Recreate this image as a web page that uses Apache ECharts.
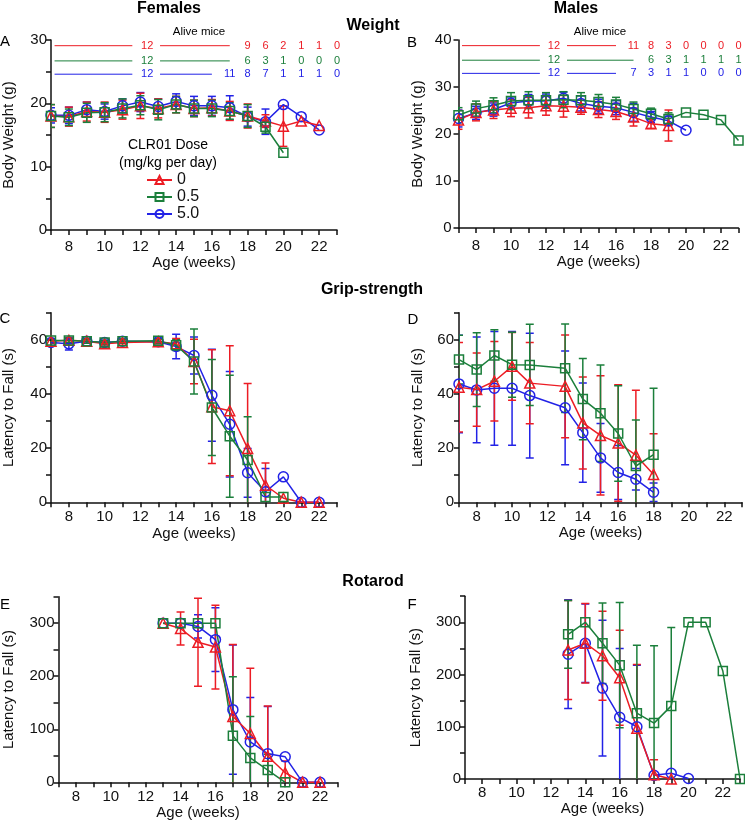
<!DOCTYPE html>
<html><head><meta charset="utf-8">
<script src="https://cdn.jsdelivr.net/npm/echarts@6/dist/echarts.min.js"></script>
<style>html,body{margin:0;padding:0;background:#fff}#c{width:745px;height:822px}</style>
</head><body><div id="c"></div>
<script>
// ---------- data ----------
const doseNames = ['0', '0.5', '5.0'];
// Females weight (A)
const fwWeeks0 = [7,8,9,10,11,12,13,14,15,16,17,18,19,20,21,22];
const fw0  = [18.0,17.9,18.7,18.6,19.0,19.6,19.2,19.8,19.2,19.3,18.8,18.0,17.2,16.4,17.2,16.5];
const fw0e = [1.8,1.5,1.5,1.6,1.5,2.0,1.5,1.3,1.3,1.3,1.5,1.9,1.0,3.2,0,0];
const fwWeeks05 = [7,8,9,10,11,12,13,14,15,16,17,18,19,20];
const fw05  = [18.0,17.8,18.5,18.6,19.2,19.7,19.0,19.8,19.2,19.2,18.8,18.0,16.3,12.2];
const fw05e = [1.8,1.3,1.5,1.5,1.5,1.5,1.6,1.3,1.3,1.3,1.3,1.8,1.0,0];
const fwWeeks5 = [7,8,9,10,11,12,13,14,15,16,17,18,19,20,21,22];
const fw5  = [18.1,18.1,19.0,18.7,19.6,20.2,19.5,20.3,19.6,19.6,19.3,17.9,17.1,19.8,17.9,15.8];
const fw5e = [1.2,1.3,1.2,1.2,1.1,1.5,1.2,1.2,1.5,1.5,1.9,1.5,2.0,0,0,0];
// Males weight (B)
const mwWeeks0 = [7,8,9,10,11,12,13,14,15,16,17,18,19];
const mw0  = [23.0,24.6,25.1,25.5,25.6,26.0,25.9,25.7,25.2,24.8,23.6,22.2,21.8];
const mw0e = [2.0,1.8,1.8,1.8,2.2,2.0,2.3,1.5,1.7,1.7,1.9,1.0,3.3];
const mwWeeks05 = [7,8,9,10,11,12,13,14,15,16,17,18,19,20,21,22,23];
const mw05  = [24.0,25.4,26.1,27.0,27.2,27.2,27.3,27.2,26.8,26.3,25.3,24.3,23.2,24.6,24.1,23.0,18.6];
const mw05e = [1.6,1.6,1.6,1.8,1.8,1.6,1.7,1.6,1.6,1.5,1.5,1.2,1.3,0,0,0,0];
const mwWeeks5 = [7,8,9,10,11,12,13,14,15,16,17,18,19,20];
const mw5  = [23.3,24.5,25.2,26.6,27.0,27.0,27.6,26.5,25.9,25.6,24.6,23.6,22.8,20.8];
const mw5e = [1.8,1.4,1.4,1.3,1.4,1.5,1.3,1.6,1.5,1.5,1.9,1.2,1.0,0];
// Females grip strength (C)
const fgWeeks0 = [7,8,9,10,11,13,14,15,16,17,18,19,20,21,22];
const fg0  = [59.5,59.8,59.5,58.5,59.0,59.3,58.5,52.0,35.3,33.8,19.9,6.3,1.5,0,0];
const fg0e = [0.8,0.8,0.8,1.0,1.0,0.8,2.0,8.2,21.0,24.0,24.0,8.2,0,0,0];
const fgWeeks05 = [7,8,9,10,11,13,14,15,16,17,18,19,20];
const fg05  = [59.7,59.7,59.5,59.0,59.5,59.6,58.0,52.0,35.0,24.4,15.6,2.0,2.0];
const fg05e = [0.8,0.8,0.8,0.8,0.8,0.8,2.0,12.0,17.7,22.5,16.0,0,0];
const fgWeeks5 = [7,8,9,10,11,13,14,15,16,17,18,19,20,21,22];
const fg5  = [59.0,58.5,59.5,59.0,59.5,59.3,57.5,54.2,39.5,28.8,10.9,3.9,9.4,0,0];
const fg5e = [1.3,2.3,0.8,0.8,0.8,0.8,4.5,6.8,17.0,19.5,9.0,8.6,0,0,0];
// Males grip strength (D)
const mgWeeks = [7,8,9,10,11,13,14,15,16,17,18];
const mg0  = [42.5,41.6,44.7,50.2,44.0,42.8,29.3,24.7,21.9,17.4,10.3];
const mg0e = [16.5,13.5,14.7,12.5,15.0,19.0,17.0,22.0,21.5,24.0,15.0];
const mg05  = [52.7,49.0,54.2,50.8,50.7,49.5,38.1,32.9,25.4,13.4,17.6];
const mg05e = [9.0,13.6,9.5,12.0,15.0,16.3,15.0,17.8,17.6,17.0,24.5];
const mg5  = [43.7,41.5,42.1,42.1,39.4,34.9,25.7,16.4,11.0,8.5,3.7];
const mg5e = [18.0,19.5,21.0,21.0,23.0,21.0,18.3,12.7,10.0,4.0,3.4];
// Females rotarod (E)
const frWeeks0 = [13,14,15,16,17,18,19,20,21,22];
const fr0  = [300,290,264,255,124,92,49,18,0,0];
const fr0e = [0,31,83,79,136,123,95,22,0,0];
const frWeeks05 = [13,14,15,16,17,18,19,20];
const fr05  = [300,300,300,300,88,46,23,0];
const fr05e = [0,0,0,0,111,78,30,0];
const frWeeks5 = [13,14,15,16,17,18,19,20,21,22];
const fr5  = [300,300,294,269,137,76,54,48,0,0];
const fr5e = [0,0,22,60,122,84,89,0,0,0];
// Males rotarod (F)
const mrWeeks0 = [13,14,15,16,17,18,19];
const mr0  = [247,260,236,194,97,8,0];
const mr0e = [95,76,85,91,122,29,0];
const mrWeeks05 = [13,14,15,16,17,18,19,20,21,22,23];
const mr05  = [277,300,260,218,126,107,140,300,300,207,0];
const mr05e = [65,0,77,120,130,148,150,0,0,0,0];
const mrWeeks5 = [13,14,15,16,17,18,19,20];
const mr5  = [239,260,174,118,100,7,11,1];
const mr5e = [104,75,130,132,118,0,0,0];
// Alive mice counts
const aliveStart = 12;
const aliveF0Weeks = [18,19,20,21,22,23];  const aliveF0 = [9,6,2,1,1,0];
const aliveF05Weeks = [18,19,20,21,22,23]; const aliveF05 = [6,3,1,0,0,0];
const aliveF5Weeks = [17,18,19,20,21,22,23]; const aliveF5 = [11,8,7,1,1,1,0];
const aliveM0Weeks = [17,18,19,20,21,22,23]; const aliveM0 = [11,8,3,0,0,0,0];
const aliveM05Weeks = [18,19,20,21,22,23]; const aliveM05 = [6,3,1,1,1,1];
const aliveM5Weeks = [17,18,19,20,21,22,23]; const aliveM5 = [7,3,1,1,0,0,0];

// ---------- styles ----------
const COL = ['#ec1c24', '#1b7f3b', '#2222e6'];
const SYM = ['triangle', 'rect', 'circle'];
const SYMSIZE = [10, 9, 10];
const FONT = '"Liberation Sans", Arial, sans-serif';

const grids = [
  {left: 51, top: 40, width: 286, height: 190},
  {left: 458.5, top: 40, width: 280, height: 188},
  {left: 51, top: 312.7, width: 286, height: 189.6},
  {left: 459, top: 312.7, width: 284, height: 189.6},
  {left: 58.5, top: 596.7, width: 279, height: 185.6},
  {left: 465, top: 596.2, width: 275, height: 182.8}
];
const yCfg = [
  {max: 30, interval: 5, lab: v => v % 10 === 0 ? v : '', name: 'Body Weight (g)', gap: 35, margin: 4},
  {max: 40, interval: 10, lab: v => v, name: 'Body Weight (g)', gap: 33, margin: 7},
  {max: 70, interval: 10, lab: v => (v % 20 === 0 && v <= 60) ? v : '', name: 'Latency to Fall (s)', gap: 35, margin: 4},
  {max: 70, interval: 10, lab: v => (v % 20 === 0 && v <= 60) ? v : '', name: 'Latency to Fall (s)', gap: 34, margin: 5},
  {max: 350, interval: 50, lab: v => v % 100 === 0 ? v : '', name: 'Latency to Fall (s)', gap: 42, margin: 4},
  {max: 350, interval: 50, lab: v => v % 100 === 0 ? v : '', name: 'Latency to Fall (s)', gap: 42, margin: 4}
];
const xGap = [21, 21, 24, 22, 22, 21];
const xMargin = [9.5, 10, 7, 7, 7, 6.5];
const axLine = {lineStyle: {color: '#111', width: 1.5}};
const axTick = {length: 5, lineStyle: {color: '#111', width: 1.5}};

const xAxis = grids.map((g, i) => ({
  type: 'value', gridIndex: i, min: 7, max: 23, interval: 1,
  axisLine: axLine, axisTick: axTick, splitLine: {show: false},
  axisLabel: {fontSize: 15, color: '#111', fontFamily: FONT, margin: xMargin[i],
    formatter: v => v % 2 === 0 ? v : ''},
  name: 'Age (weeks)', nameLocation: 'middle', nameGap: xGap[i],
  nameTextStyle: {fontSize: 15, color: '#111', fontFamily: FONT}
}));
const yAxis = yCfg.map((c, i) => ({
  type: 'value', gridIndex: i, min: 0, max: c.max, interval: c.interval,
  axisLine: {show: true, ...axLine}, axisTick: {show: true, ...axTick}, splitLine: {show: false},
  axisLabel: {fontSize: 15, color: '#111', fontFamily: FONT, margin: c.margin, formatter: c.lab,
    showMaxLabel: true},
  name: c.name, nameLocation: 'middle', nameGap: c.gap,
  nameTextStyle: {fontSize: 15, color: '#111', fontFamily: FONT}
}));

const zip = (w, v) => w.map((x, i) => [x, v[i]]);
const zip3 = (w, v, e) => w.map((x, i) => [x, v[i], e[i]]);

function errSeries(idx, d, k) {
  const c = COL[d];
  return {
    type: 'custom', name: 'err' + idx + '_' + d, xAxisIndex: idx, yAxisIndex: idx,
    clip: true, silent: true, z: 2,
    data: k,
    renderItem: function (params, api) {
      const x = api.value(0), y = api.value(1), e = api.value(2);
      if (!e) return null;
      const hi = api.coord([x, y + e]), lo = api.coord([x, y - e]);
      const hw = 4, st = {stroke: c, lineWidth: 1.5};
      return {type: 'group', children: [
        {type: 'line', shape: {x1: hi[0], y1: hi[1], x2: lo[0], y2: lo[1]}, style: st},
        {type: 'line', shape: {x1: hi[0] - hw, y1: hi[1], x2: hi[0] + hw, y2: hi[1]}, style: st},
        {type: 'line', shape: {x1: lo[0] - hw, y1: lo[1], x2: lo[0] + hw, y2: lo[1]}, style: st}
      ]};
    }
  };
}
function lineSeries(idx, d, data) {
  const c = COL[d];
  return {
    type: 'line', name: doseNames[d], xAxisIndex: idx, yAxisIndex: idx, data: data,
    symbol: SYM[d], symbolSize: SYMSIZE[d], showAllSymbol: true, z: 3,
    color: c,
    lineStyle: {color: c, width: 1.5},
    itemStyle: {color: 'rgba(255,255,255,0)', borderColor: c, borderWidth: 1.5},
    emphasis: {disabled: true}, animation: false
  };
}

const panels = [
  [[fwWeeks0, fw0, fw0e], [fwWeeks05, fw05, fw05e], [fwWeeks5, fw5, fw5e]],
  [[mwWeeks0, mw0, mw0e], [mwWeeks05, mw05, mw05e], [mwWeeks5, mw5, mw5e]],
  [[fgWeeks0, fg0, fg0e], [fgWeeks05, fg05, fg05e], [fgWeeks5, fg5, fg5e]],
  [[mgWeeks, mg0, mg0e], [mgWeeks, mg05, mg05e], [mgWeeks, mg5, mg5e]],
  [[frWeeks0, fr0, fr0e], [frWeeks05, fr05, fr05e], [frWeeks5, fr5, fr5e]],
  [[mrWeeks0, mr0, mr0e], [mrWeeks05, mr05, mr05e], [mrWeeks5, mr5, mr5e]]
];
const drawOrder = [2, 0, 1];
const series = [];
panels.forEach((p, idx) => {
  drawOrder.forEach(d => {
    const [w, v, e] = p[d];
    series.push(errSeries(idx, d, zip3(w, v, e)));
    series.push(lineSeries(idx, d, zip(w, v)));
  });
});

// Alive-mice annotation rows (data units of panels A and B)
const aliveRowsA = [29.1, 26.7, 24.6];
const aliveRowsB = [38.8, 35.7, 32.9];
const aliveSpansA = [[[7.2, 11.55], [13.1, 17.0]], [[7.2, 11.55], [13.1, 17.0]], [[7.2, 11.55], [13.1, 16.0]]];
const aliveSpansB = [[[7.2, 11.65], [13.2, 16.0]], [[7.2, 11.65], [13.2, 17.0]], [[7.2, 11.65], [13.2, 16.0]]];
const aliveStartX = [12.38, 12.45];
const aliveA = [[aliveF0Weeks, aliveF0], [aliveF05Weeks, aliveF05], [aliveF5Weeks, aliveF5]];
const aliveB = [[aliveM0Weeks, aliveM0], [aliveM05Weeks, aliveM05], [aliveM5Weeks, aliveM5]];

function aliveSeries(idx, rows, spans, counts, sx) {
  rows.forEach((y, d) => {
    const c = COL[d];
    const segData = [];
    spans[d].forEach((s, j) => {
      if (j) segData.push([null, null]);
      segData.push([s[0], y], [s[1], y]);
    });
    series.push({type: 'line', xAxisIndex: idx, yAxisIndex: idx, data: segData, connectNulls: false,
      symbol: 'none', lineStyle: {color: c, width: 1}, silent: true, z: 1, animation: false});
    const txt = [[sx, y, aliveStart]].concat(counts[d][0].map((w, i) => [w, y, counts[d][1][i]]));
    series.push({type: 'custom', xAxisIndex: idx, yAxisIndex: idx, data: txt, silent: true, z: 4, clip: false,
      renderItem: function (params, api) {
        const p = api.coord([api.value(0), api.value(1)]);
        return {type: 'text', x: p[0], y: p[1],
          style: {text: String(api.value(2)), fill: c, font: '11px ' + FONT, align: 'center', verticalAlign: 'middle'}};
      }});
  });
}
aliveSeries(0, aliveRowsA, aliveSpansA, aliveA, aliveStartX[0]);
aliveSeries(1, aliveRowsB, aliveSpansB, aliveB, aliveStartX[1]);

function txt(x, y, s, font, align) {
  return {type: 'text', x: x, y: y, silent: true,
    style: {text: s, font: font, fill: '#000', align: align || 'center', verticalAlign: 'middle'}};
}
const B16 = 'bold 16px ' + FONT, R15 = '15px ' + FONT;
const graphic = [
  txt(169, 9, 'Females', B16), txt(576, 9, 'Males', B16),
  txt(373, 26, 'Weight', B16), txt(372, 290, 'Grip-strength', B16), txt(373, 582, 'Rotarod', B16),
  txt(5, 42, 'A', R15), txt(412, 43, 'B', R15), txt(5, 319, 'C', R15),
  txt(413, 320, 'D', R15), txt(5, 605, 'E', R15), txt(412, 605, 'F', R15),
  txt(199, 32, 'Alive mice', '11.5px ' + FONT), txt(600, 32, 'Alive mice', '11.5px ' + FONT),
  txt(168, 145, 'CLR01 Dose', '14px ' + FONT), txt(168, 163, '(mg/kg per day)', '14px ' + FONT)
];

const chart = echarts.init(document.getElementById('c'), null, {renderer: 'canvas'});
chart.setOption({
  animation: false,
  backgroundColor: '#fff',
  grid: grids,
  xAxis: xAxis,
  yAxis: yAxis,
  legend: {data: doseNames, orient: 'vertical', left: 146, top: 172, padding: 0,
    itemWidth: 25, itemHeight: 10, itemGap: 1,
    textStyle: {fontSize: 16, color: '#111', fontFamily: FONT}, selectedMode: false},
  graphic: graphic,
  series: series
});
</script></body></html>
